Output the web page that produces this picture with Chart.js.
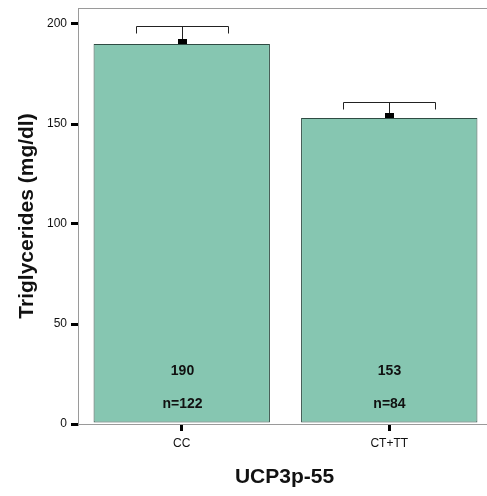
<!DOCTYPE html>
<html>
<head>
<meta charset="utf-8">
<script src="https://cdn.jsdelivr.net/npm/chart.js@4/dist/chart.umd.min.js"></script>
<style>
  html, body { margin: 0; padding: 0; background: #fff; overflow: hidden; }
  #wrap { width: 493px; height: 496px; }
</style>
</head>
<body>
<div id="wrap"><canvas id="chart"></canvas></div>
<script>
// data
const categories = ["CC", "CT+TT"];
const means = [190, 153];
const errorTops = [199, 161];
const valueLabels = ["190", "153"];
const countLabels = ["n=122", "n=84"];
const yTicks = [0, 50, 100, 150, 200];

const FONT = "'Liberation Sans', Arial, sans-serif";

// error brackets, labels inside bars, frame and axis titles
const extras = {
  id: "extras",
  afterDatasetsDraw(chart) {
    const { ctx, chartArea, scales } = chart;
    const x = scales.x, y = scales.y;
    ctx.save();

    // top frame line
    ctx.strokeStyle = "#9a9a9a";
    ctx.lineWidth = 1;
    ctx.beginPath();
    ctx.moveTo(chartArea.left, chartArea.top + 0.5);
    ctx.lineTo(chartArea.right, chartArea.top + 0.5);
    ctx.stroke();

    categories.forEach((c, i) => {
      const cx = Math.round(x.getPixelForValue(i)) + 0.5;
      const yTop = Math.round(y.getPixelForValue(errorTops[i])) + 0.5;
      const yBar = y.getPixelForValue(means[i]);

      ctx.strokeStyle = "#222";
      ctx.lineWidth = 1;
      ctx.beginPath();
      ctx.moveTo(cx, yBar);
      ctx.lineTo(cx, yTop);
      ctx.moveTo(cx - 46, yTop + 7);
      ctx.lineTo(cx - 46, yTop);
      ctx.lineTo(cx + 46, yTop);
      ctx.lineTo(cx + 46, yTop + 7);
      ctx.stroke();

      ctx.fillStyle = "#000";
      ctx.fillRect(cx - 4.5, yBar - 5, 9, 5);

      ctx.fillStyle = "#111";
      ctx.font = "bold 14px " + FONT;
      ctx.textAlign = "center";
      ctx.textBaseline = "middle";
      ctx.fillText(valueLabels[i], cx, 371);
      ctx.fillText(countLabels[i], cx, 404);
    });

    // axis titles
    ctx.fillStyle = "#111";
    ctx.font = "bold 21px " + FONT;
    ctx.textAlign = "center";
    ctx.textBaseline = "middle";
    ctx.fillText("UCP3p-55", (chartArea.left + 493) / 2 - 1, 477);

    ctx.translate(27, (chartArea.top + chartArea.bottom) / 2);
    ctx.rotate(-Math.PI / 2);
    ctx.fillText("Triglycerides (mg/dl)", 0, 0);
    ctx.restore();
  }
};

new Chart(document.getElementById("chart"), {
  type: "bar",
  data: {
    labels: categories,
    datasets: [{
      data: means,
      backgroundColor: "#86c6b1",
      borderColor: "#2f4b43",
      borderWidth: 1,
      borderSkipped: false,
      barPercentage: 0.85,
      categoryPercentage: 1.0
    }]
  },
  options: {
    responsive: true,
    maintainAspectRatio: false,
    animation: false,
    layout: { padding: { top: 8, left: 0, right: 0, bottom: 0 } },
    plugins: { legend: { display: false }, tooltip: { enabled: false } },
    scales: {
      x: {
        offset: true,
        grid: {
          display: true,
          offset: false,
          drawOnChartArea: false,
          tickLength: 7,
          tickColor: "#000",
          lineWidth: 3
        },
        border: { color: "#9a9a9a", width: 1 },
        ticks: { color: "#111", font: { family: FONT, size: 12 }, padding: 5 },
        afterFit(s) { s.height = 72; s.paddingLeft = 0; s.paddingRight = 0; }
      },
      y: {
        min: 0,
        max: 208,
        afterBuildTicks(s) { s.ticks = yTicks.map(v => ({ value: v })); },
        grid: {
          display: true,
          drawOnChartArea: false,
          tickLength: 7,
          tickColor: "#000",
          lineWidth: 3
        },
        border: { color: "#9a9a9a", width: 1 },
        ticks: { color: "#111", font: { family: FONT, size: 12 }, padding: 4 },
        afterFit(s) { s.width = 78; s.paddingTop = 0; s.paddingBottom = 0; }
      }
    }
  },
  plugins: [extras]
});
</script>
</body>
</html>
